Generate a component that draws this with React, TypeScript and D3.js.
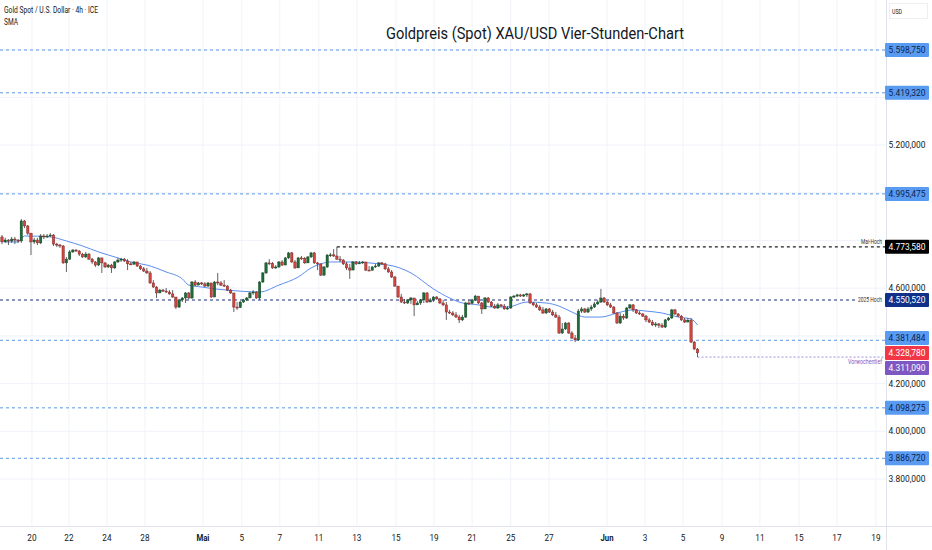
import React, { useEffect, useRef } from 'react'
import * as d3 from 'd3'

// 4h Gold Spot (price in USD)
const firstOpen = 4815
const closes = [
  4794, 4802, 4798, 4806, 4802, 4798, 4882, 4861, 4831, 4794,
  4802, 4790, 4819, 4815, 4819, 4823, 4785, 4781, 4777, 4706,
  4722, 4752, 4760, 4756, 4743, 4731, 4743, 4722, 4710, 4697,
  4727, 4706, 4689, 4697, 4685, 4710, 4718, 4722, 4714, 4702,
  4700, 4710, 4693, 4681, 4672, 4664, 4622, 4605, 4580, 4592,
  4588, 4584, 4576, 4563, 4521, 4551, 4559, 4580, 4559, 4626,
  4613, 4622, 4618, 4609, 4622, 4563, 4626, 4622, 4613, 4609,
  4592, 4580, 4521, 4519, 4542, 4551, 4559, 4580, 4584, 4559,
  4626, 4664, 4706, 4704, 4685, 4689, 4710, 4697, 4727, 4748,
  4710, 4685, 4727, 4725, 4706, 4731, 4748, 4706, 4702, 4655,
  4689, 4739, 4740, 4735, 4722, 4718, 4702, 4685, 4676, 4710,
  4702, 4706, 4710, 4676, 4675, 4689, 4693, 4706, 4702, 4681,
  4668, 4647, 4609, 4563, 4542, 4538, 4551, 4559, 4530, 4538,
  4551, 4580, 4542, 4551, 4563, 4555, 4538, 4530, 4500, 4496,
  4488, 4479, 4467, 4479, 4538, 4537, 4551, 4567, 4538, 4513,
  4559, 4542, 4525, 4517, 4530, 4525, 4513, 4517, 4563, 4567,
  4572, 4567, 4572, 4576, 4538, 4530, 4521, 4509, 4496, 4513,
  4500, 4488, 4479, 4412, 4429, 4454, 4412, 4391, 4383, 4504,
  4513, 4500, 4513, 4521, 4534, 4542, 4559, 4542, 4530, 4521,
  4496, 4454, 4483, 4475, 4517, 4530, 4509, 4496, 4492, 4483,
  4467, 4458, 4446, 4450, 4445, 4437, 4467, 4475, 4509, 4492,
  4483, 4467, 4458, 4466, 4374, 4345, 4328.78,
]
const highs = [
  4823, 4811, 4806, 4815, 4815, 4806, 4890, 4886, 4865, 4831,
  4811, 4811, 4827, 4827, 4827, 4831, 4827, 4790, 4785, 4781,
  4731, 4760, 4764, 4764, 4760, 4748, 4752, 4748, 4727, 4714,
  4731, 4727, 4710, 4702, 4702, 4714, 4727, 4727, 4727, 4722,
  4710, 4714, 4710, 4697, 4689, 4685, 4672, 4634, 4609, 4597,
  4597, 4601, 4592, 4592, 4563, 4555, 4563, 4584, 4584, 4630,
  4634, 4626, 4626, 4626, 4626, 4622, 4630, 4664, 4630, 4634,
  4613, 4597, 4580, 4542, 4546, 4555, 4563, 4584, 4592, 4588,
  4630, 4668, 4710, 4722, 4710, 4697, 4714, 4718, 4731, 4752,
  4752, 4718, 4731, 4735, 4731, 4735, 4752, 4752, 4710, 4702,
  4693, 4743, 4748, 4764, 4773.58, 4735, 4722, 4710, 4702, 4714,
  4714, 4714, 4714, 4710, 4693, 4693, 4702, 4710, 4710, 4706,
  4689, 4676, 4651, 4609, 4576, 4555, 4555, 4563, 4559, 4546,
  4555, 4584, 4584, 4559, 4567, 4567, 4559, 4551, 4542, 4509,
  4504, 4500, 4488, 4488, 4542, 4551, 4555, 4572, 4567, 4542,
  4563, 4563, 4546, 4534, 4538, 4534, 4534, 4525, 4567, 4572,
  4576, 4576, 4576, 4580, 4580, 4542, 4538, 4530, 4521, 4517,
  4517, 4509, 4500, 4488, 4454, 4458, 4458, 4420, 4404, 4513,
  4521, 4517, 4521, 4530, 4542, 4551, 4597, 4563, 4546, 4538,
  4525, 4500, 4496, 4492, 4521, 4534, 4534, 4513, 4504, 4496,
  4488, 4475, 4467, 4458, 4454, 4454, 4471, 4479, 4513, 4513,
  4496, 4488, 4475, 4475, 4475, 4379, 4349,
]
const lows = [
  4785, 4790, 4781, 4790, 4785, 4790, 4790, 4852, 4823, 4739,
  4785, 4781, 4785, 4806, 4811, 4815, 4777, 4773, 4769, 4702,
  4668, 4718, 4748, 4752, 4735, 4727, 4727, 4718, 4702, 4689,
  4693, 4664, 4685, 4685, 4664, 4681, 4706, 4710, 4710, 4676,
  4697, 4702, 4689, 4676, 4668, 4660, 4618, 4601, 4559, 4580,
  4584, 4580, 4572, 4559, 4513, 4517, 4542, 4538, 4555, 4555,
  4609, 4613, 4613, 4605, 4605, 4559, 4563, 4613, 4609, 4605,
  4588, 4576, 4500, 4509, 4517, 4538, 4546, 4559, 4572, 4555,
  4551, 4622, 4660, 4697, 4681, 4681, 4685, 4693, 4697, 4722,
  4706, 4681, 4685, 4718, 4702, 4706, 4727, 4702, 4676, 4651,
  4651, 4685, 4731, 4731, 4718, 4710, 4697, 4676, 4639, 4676,
  4697, 4702, 4702, 4672, 4672, 4681, 4685, 4689, 4697, 4676,
  4664, 4643, 4605, 4559, 4538, 4534, 4534, 4534, 4483, 4530,
  4530, 4538, 4538, 4542, 4542, 4551, 4534, 4525, 4467, 4492,
  4483, 4475, 4454, 4462, 4475, 4530, 4534, 4546, 4534, 4492,
  4513, 4538, 4521, 4513, 4513, 4521, 4509, 4509, 4513, 4559,
  4563, 4563, 4563, 4563, 4534, 4525, 4517, 4504, 4492, 4492,
  4496, 4483, 4475, 4408, 4408, 4425, 4408, 4387, 4374, 4379,
  4496, 4496, 4496, 4504, 4517, 4530, 4538, 4538, 4525, 4517,
  4492, 4450, 4450, 4467, 4471, 4513, 4500, 4492, 4488, 4479,
  4458, 4454, 4441, 4437, 4433, 4433, 4433, 4462, 4471, 4488,
  4479, 4462, 4454, 4458, 4370, 4341, 4311.09,
]

// SMA (bar index, value)
const smaBars = [1, 5, 7, 15, 20, 25, 30, 36, 40, 45, 51, 56, 58, 62, 66, 70, 80, 86, 92, 96, 99, 102, 107, 120, 127, 134, 139, 143, 148, 152, 157, 163, 169, 173, 177, 181, 186, 191, 196, 200, 205, 210, 214, 216]
const smaValues = [4794, 4794, 4819, 4815, 4798, 4777, 4752, 4727, 4710, 4697, 4668, 4639, 4613, 4605, 4597, 4592, 4584, 4613, 4647, 4685, 4702, 4710, 4710, 4697, 4664, 4597, 4559, 4538, 4530, 4521, 4521, 4542, 4538, 4525, 4500, 4479, 4479, 4496, 4509, 4504, 4496, 4479, 4471, 4446]

const tickLabels = ['20', '22', '24', '28', 'Mai', '5', '7', '11', '13', '15', '19', '21', '25', '27', 'Jun', '3', '5', '9', '11', '15', '17', '19']
const tickBars = [9.3, 20.8, 32.6, 44.4, 62.4, 74.5, 86.3, 98.4, 110.2, 122.4, 134.2, 146, 158, 169.9, 187.9, 199.7, 211.5, 223.6, 235.4, 247.5, 259.3, 271.4]
const priceTicks = [3800, 4000, 4200, 4400, 4600, 4800, 5000, 5200, 5400, 5600]

const blueLevels = [5598.75, 5419.32, 4995.475, 4381.484, 4098.275, 3886.72]
const mayHigh = 4773.58
const mayHighBar = 104
const high2025 = 4550.52
const lastPrice = 4328.78
const prevWeekLow = 4311.09

const W = 932
const H = 550
const FONT = 'Roboto, "Noto Sans", sans-serif'

function App() {
  const refSvg = useRef<SVGSVGElement>(null)

  const draw = () => {
    const svg = d3.select(refSvg.current)
    svg.selectAll('*').remove()

    const paneRight = 886
    const paneBottom = 526
    const x = d3.scaleLinear().domain([0, 216]).range([2, 697.5])
    const y = d3.scaleLinear().domain([3602.9, 5808.4]).range([paneBottom, 0])
    const de = d3.formatLocale({ decimal: ',', thousands: '.', grouping: [3], currency: ['', ''] })
    const fmt = de.format(',.3f')

    // narrow text: the original uses a condensed face, so squeeze to the measured width
    const label = (g: any, s: string, tx: number, ty: number, size: number, len: number, anchor = 'start', fill = '#131722') =>
      g.append('text').text(s)
        .attr('x', tx).attr('y', ty).attr('dy', '0.35em')
        .attr('text-anchor', anchor)
        .attr('font-size', size).attr('font-family', FONT).attr('fill', fill)
        .attr('textLength', len).attr('lengthAdjust', 'spacingAndGlyphs')

    svg.append('rect').attr('width', W).attr('height', H).attr('fill', '#fff')

    // grid
    const grid = svg.append('g')
    grid.selectAll('line.v').data(tickBars).join('line')
      .attr('x1', (d) => x(d)).attr('x2', (d) => x(d))
      .attr('y1', 0).attr('y2', paneBottom)
      .attr('stroke', '#f0f3fa')
    grid.selectAll('line.h').data(priceTicks).join('line')
      .attr('x1', 0).attr('x2', paneRight)
      .attr('y1', (d) => y(d)).attr('y2', (d) => y(d))
      .attr('stroke', '#f0f3fa')

    // pane borders
    svg.append('line').attr('x1', paneRight + 0.5).attr('x2', paneRight + 0.5).attr('y1', 0).attr('y2', H).attr('stroke', '#e0e3eb')
    svg.append('line').attr('x1', 0).attr('x2', W).attr('y1', paneBottom + 0.5).attr('y2', paneBottom + 0.5).attr('stroke', '#e0e3eb')

    // level lines
    svg.selectAll('line.blue').data(blueLevels).join('line')
      .attr('x1', 0).attr('x2', paneRight)
      .attr('y1', (d) => y(d)).attr('y2', (d) => y(d))
      .attr('stroke', '#5b97e6').attr('stroke-dasharray', '3 3')

    svg.append('line')
      .attr('x1', x(mayHighBar)).attr('x2', paneRight)
      .attr('y1', y(mayHigh)).attr('y2', y(mayHigh))
      .attr('stroke', '#222').attr('stroke-width', 1.2).attr('stroke-dasharray', '3 3')
    label(svg, 'Mai-Hoch', 882, y(mayHigh) - 5, 6.5, 21, 'end', '#333')

    svg.append('line')
      .attr('x1', 0).attr('x2', 856)
      .attr('y1', y(high2025)).attr('y2', y(high2025))
      .attr('stroke', '#1b2f7a').attr('stroke-width', 1.1).attr('stroke-dasharray', '3 3')
    label(svg, '2025 Hoch', 882, y(high2025), 6.5, 24, 'end', '#333')

    svg.append('line')
      .attr('x1', x(216)).attr('x2', paneRight)
      .attr('y1', y(prevWeekLow)).attr('y2', y(prevWeekLow))
      .attr('stroke', '#9b8fd8').attr('stroke-dasharray', '2 2')
    label(svg, 'Vorwochentief', 882, y(prevWeekLow) + 5, 6.5, 34, 'end', '#7e57c2')

    // SMA
    const smaPts: [number, number][] = smaBars.map((b, i) => [b, smaValues[i]])
    svg.append('path').datum(smaPts)
      .attr('fill', 'none').attr('stroke', '#5b8def').attr('stroke-width', 1)
      .attr('d', d3.line<[number, number]>().x((d) => x(d[0])).y((d) => y(d[1])).curve(d3.curveMonotoneX))

    // candles
    const bars = closes.map((c, i) => {
      const o = i === 0 ? firstOpen : closes[i - 1]
      return { i, o, c, h: Math.max(highs[i], o, c), l: Math.min(lows[i], o, c) }
    })
    const bw = 2.4
    const cg = svg.append('g')
    cg.selectAll('line').data(bars).join('line')
      .attr('x1', (d) => x(d.i)).attr('x2', (d) => x(d.i))
      .attr('y1', (d) => y(d.h)).attr('y2', (d) => y(d.l))
      .attr('stroke', '#3a3a3a').attr('stroke-width', 0.8)
    cg.selectAll('rect').data(bars).join('rect')
      .attr('x', (d) => x(d.i) - bw / 2)
      .attr('width', bw)
      .attr('y', (d) => y(Math.max(d.o, d.c)))
      .attr('height', (d) => Math.max(1, Math.abs(y(d.o) - y(d.c))))
      .attr('fill', (d) => (d.c >= d.o ? '#1e6b38' : '#d2453f'))
      .attr('stroke', (d) => (d.c >= d.o ? '#123f21' : '#6b1c19'))
      .attr('stroke-width', 0.4)

    // x axis labels
    tickLabels.forEach((t, i) => {
      const isMonth = t === 'Mai' || t === 'Jun'
      label(svg, t, x(tickBars[i]), 538, 9.5, isMonth ? 13 : t.length * 4.6, 'middle')
        .attr('font-weight', isMonth ? 700 : 400)
    })

    // price axis labels (hidden where a level label sits)
    const labelYs = [...blueLevels, mayHigh, high2025, lastPrice, prevWeekLow].map((v) => y(v))
    const visibleTicks = priceTicks.filter((t) => labelYs.every((ly) => Math.abs(ly - y(t)) > 7))
    visibleTicks.forEach((t) => label(svg, fmt(t), 907, y(t), 9, 37, 'middle'))

    // level labels on the price axis
    const redY = y(lastPrice)
    const push = (v: number) => {
      const n = y(v)
      if (Math.abs(n - redY) < 15) return n < redY ? redY - 15 : redY + 15
      return n
    }
    const tag = (v: number, bg: string, fg: string, yy: number) => {
      svg.append('rect').attr('x', 885).attr('y', yy - 7).attr('width', 44).attr('height', 14).attr('fill', bg).attr('rx', 1)
      label(svg, fmt(v), 907, yy, 9, 37, 'middle', fg)
    }
    blueLevels.forEach((v) => tag(v, '#5a9bf2', '#0d1f4d', push(v)))
    tag(mayHigh, '#000', '#fff', y(mayHigh))
    tag(high2025, '#10308a', '#fff', y(high2025))
    tag(lastPrice, '#f23645', '#fff', redY)
    tag(prevWeekLow, '#7e57c2', '#fff', push(prevWeekLow))

    // currency box
    svg.append('rect').attr('x', 889.5).attr('y', 3.5).attr('width', 38).attr('height', 15).attr('fill', '#fff').attr('stroke', '#eceef2')
    label(svg, 'USD', 892, 11, 7.5, 10)

    // header and title
    label(svg, 'Gold Spot / U.S. Dollar · 4h · ICE', 4, 10, 8.5, 94)
    label(svg, 'SMA', 4, 22, 8.5, 14)
    label(svg, 'Goldpreis (Spot) XAU/USD Vier-Stunden-Chart', 535, 33, 17, 298, 'middle')
  }

  useEffect(() => {
    if (refSvg.current) {
      draw()
    }
  })

  return (
    <svg ref={refSvg} width={W} height={H} style={{ position: 'absolute', left: 0, top: 0, display: 'block' }} />
  )
}

export default App
